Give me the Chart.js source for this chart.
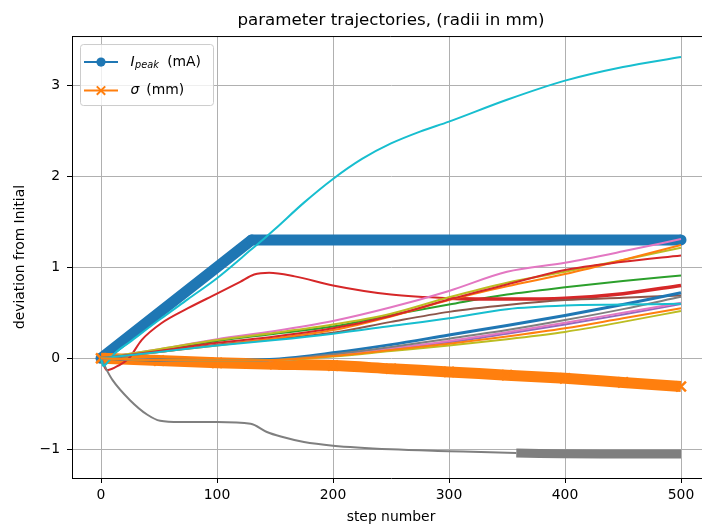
<!DOCTYPE html>
<html>
<head>
<meta charset="utf-8">
<script src="https://cdn.jsdelivr.net/npm/chart.js@4.4.0/dist/chart.umd.min.js"></script>
<style>
  html, body { margin: 0; padding: 0; background: #fff; overflow: hidden; }
  #wrap { width: 702px; height: 529px; overflow: hidden; }
</style>
</head>
<body>
<div id="wrap"><canvas id="chart" width="710" height="529"></canvas></div>
<script>
// ---- data ----
const TITLE = "parameter trajectories, (radii in mm)";
const X_LABEL = "step number";
const Y_LABEL = "deviation from Initial";
const X_TICKS = [0, 100, 200, 300, 400, 500];
const Y_TICKS = [-1, 0, 1, 2, 3];

// shared sample steps for the smooth trajectories
const STEPS = [0, 50, 100, 150, 200, 250, 300, 350, 400, 450, 500];

const IPEAK_STEPS = [0, 130, 500];
const IPEAK = [0, 1.30, 1.30];

const SIGMA = [0, -0.025, -0.05, -0.065, -0.08, -0.115, -0.15, -0.185, -0.22, -0.265, -0.31];

// upper bundle
const GREEN_UP = [0, 0.09, 0.19, 0.27, 0.35, 0.475, 0.59, 0.70, 0.78, 0.85, 0.91];
const BROWN_UP = [0, 0.07, 0.15, 0.21, 0.28, 0.40, 0.51, 0.585, 0.64, 0.665, 0.69];
const PINK_UP = [0, 0.10, 0.21, 0.30, 0.41, 0.56, 0.74, 0.95, 1.05, 1.175, 1.31];
const OLIVE_UP = [0, 0.10, 0.20, 0.28, 0.37, 0.49, 0.67, 0.83, 0.95, 1.08, 1.215];
const ORANGE_UP = [0, 0.07, 0.14, 0.22, 0.31, 0.46, 0.64, 0.79, 0.925, 1.08, 1.245];
const RED_UP = [0, 0.08, 0.17, 0.24, 0.33, 0.465, 0.645, 0.81, 0.97, 1.06, 1.13];
const CYAN_UP = [0, 0.07, 0.14, 0.20, 0.27, 0.355, 0.44, 0.54, 0.58, 0.59, 0.60];

// lower bundle
const BLUE_LOW = [0, -0.02, -0.025, -0.01, 0.06, 0.15, 0.256, 0.36, 0.47, 0.59, 0.72];
const GRAY_LOW = [0, -0.02, -0.025, -0.015, 0.045, 0.125, 0.215, 0.31, 0.42, 0.54, 0.675];
const PINK_LOW = [0, -0.02, -0.025, -0.02, 0.035, 0.11, 0.19, 0.285, 0.39, 0.50, 0.61];
const PURPLE_LOW = [0, -0.02, -0.025, -0.02, 0.03, 0.10, 0.175, 0.27, 0.37, 0.48, 0.595];
const ORANGE_LOW = [0, -0.02, -0.025, -0.02, 0.025, 0.09, 0.16, 0.24, 0.33, 0.44, 0.55];
const OLIVE_LOW = [0, -0.02, -0.025, -0.02, 0.02, 0.08, 0.14, 0.21, 0.29, 0.40, 0.52];

// special trajectories
const CYAN_BIG_STEPS = [0, 2, 6, 12, 25, 50, 75, 100, 130, 142, 150, 175, 200, 225, 250, 275, 300, 350, 400, 450, 500];
const CYAN_BIG = [0, -0.085, -0.04, 0.055, 0.18, 0.42, 0.65, 0.88, 1.2, 1.33, 1.42, 1.71, 1.97, 2.19, 2.36, 2.49, 2.60, 2.84, 3.05, 3.20, 3.31];

const RED_PEAK_STEPS = [0, 5, 12, 24, 35, 52, 75, 100, 120, 132, 145, 167, 200, 250, 300, 350, 400, 450, 500];
const RED_PEAK = [0, -0.13, -0.1, 0, 0.2, 0.385, 0.55, 0.71, 0.84, 0.92, 0.94, 0.9, 0.8, 0.7, 0.66, 0.65, 0.66, 0.71, 0.80];

const GRAY_DOWN_STEPS = [0, 5, 10, 25, 40, 51, 68, 100, 129, 143, 155, 175, 200, 250, 300, 358, 430, 500];
const GRAY_DOWN = [0, -0.13, -0.24, -0.46, -0.62, -0.686, -0.70, -0.70, -0.72, -0.81, -0.86, -0.92, -0.96, -1.0, -1.02, -1.04, -1.05, -1.05];

// ---- style ----
const FONT = "DejaVu Sans";
const C = {
  blue: "#1f77b4", orange: "#ff7f0e", green: "#2ca02c", red: "#d62728", purple: "#9467bd",
  brown: "#8c564b", pink: "#e377c2", gray: "#7f7f7f", olive: "#bcbd22", cyan: "#17becf",
};

Chart.defaults.font.family = FONT;
Chart.defaults.font.size = 13.9;
Chart.defaults.color = "#000";

function pts(xs, ys) {
  return xs.map((x, i) => ({ x: x, y: ys[i] }));
}

function thin(color, xs, ys, extra) {
  return Object.assign({
    data: pts(xs, ys),
    borderColor: color,
    borderWidth: 2,
    pointRadius: 0,
    cubicInterpolationMode: "monotone",
    fill: false,
  }, extra || {});
}

// plotted in matplotlib order (first = bottom)
const datasets = [
  {
    label: "I_peak (mA)",
    data: pts(IPEAK_STEPS, IPEAK),
    borderColor: C.blue,
    backgroundColor: C.blue,
    borderWidth: 11,
    borderJoinStyle: "round",
    pointStyle: "circle",
    pointRadius: 5.5,
    pointBorderWidth: 0,
  },
  {
    label: "σ (mm)",
    data: pts(STEPS, SIGMA),
    borderColor: C.orange,
    borderWidth: 11,
    cubicInterpolationMode: "monotone",
    pointStyle: "crossRot",
    pointRadius: 7,
    pointBorderWidth: 2.5,
    pointBorderColor: C.orange,
  },
  thin(C.green, STEPS, GREEN_UP),
  thin(C.red, RED_PEAK_STEPS, RED_PEAK, {
    segment: { borderWidth: (s) => (s.p0.parsed.x >= 300 ? 3.5 : 2) },
  }),
  thin(C.purple, STEPS, PURPLE_LOW),
  thin(C.brown, STEPS, BROWN_UP),
  thin(C.pink, STEPS, PINK_UP),
  thin(C.gray, GRAY_DOWN_STEPS, GRAY_DOWN, {
    segment: { borderWidth: (s) => (s.p0.parsed.x >= 358 ? 9 : 2) },
  }),
  thin(C.olive, STEPS, OLIVE_UP),
  thin(C.cyan, CYAN_BIG_STEPS, CYAN_BIG),
  thin(C.blue, STEPS, BLUE_LOW, { borderWidth: 3 }),
  thin(C.orange, STEPS, ORANGE_UP),
  thin(C.red, STEPS, RED_UP),
  thin(C.pink, STEPS, PINK_LOW),
  thin(C.gray, STEPS, GRAY_LOW),
  thin(C.olive, STEPS, OLIVE_LOW),
  thin(C.cyan, STEPS, CYAN_UP),
  thin(C.orange, STEPS, ORANGE_LOW),
];
datasets.forEach((d, i) => { d.order = -i; });

const LEGEND_ITEMS = [
  { color: C.blue, marker: "circle", main: "I", sub: "peak", rest: "(mA)" },
  { color: C.orange, marker: "cross", main: "σ", sub: "", rest: "(mm)" },
];

// top/right spines like matplotlib's box
const framePlugin = {
  id: "frame",
  afterDatasetsDraw(chart) {
    const { ctx, chartArea: a } = chart;
    ctx.save();
    ctx.strokeStyle = "#000";
    ctx.lineWidth = 1;
    ctx.beginPath();
    ctx.moveTo(a.left, a.top + 0.5);
    ctx.lineTo(a.right - 0.5, a.top + 0.5);
    ctx.lineTo(a.right - 0.5, a.bottom);
    ctx.stroke();
    ctx.restore();
  },
};

// legend with line+marker handles and a subscripted label
const legendPlugin = {
  id: "mplLegend",
  afterDraw(chart) {
    const { ctx, chartArea: a } = chart;
    const x0 = a.left + 8.5;
    const y0 = a.top + 8.5;
    ctx.save();
    ctx.beginPath();
    ctx.roundRect(x0, y0, 133, 61, 3);
    ctx.fillStyle = "rgba(255,255,255,0.8)";
    ctx.fill();
    ctx.strokeStyle = "#cccccc";
    ctx.lineWidth = 1;
    ctx.stroke();

    LEGEND_ITEMS.forEach((item, i) => {
      const cy = y0 + 17.5 + i * 28.5;
      const mx = x0 + 20.5;
      ctx.strokeStyle = item.color;
      ctx.fillStyle = item.color;
      ctx.lineWidth = 2;
      ctx.beginPath();
      ctx.moveTo(x0 + 3.5, cy);
      ctx.lineTo(x0 + 37.5, cy);
      ctx.stroke();
      if (item.marker === "circle") {
        ctx.beginPath();
        ctx.arc(mx, cy, 4.6, 0, Math.PI * 2);
        ctx.fill();
      } else {
        const r = 4.2;
        ctx.beginPath();
        ctx.moveTo(mx - r, cy - r);
        ctx.lineTo(mx + r, cy + r);
        ctx.moveTo(mx - r, cy + r);
        ctx.lineTo(mx + r, cy - r);
        ctx.stroke();
      }

      ctx.fillStyle = "#000";
      ctx.textBaseline = "alphabetic";
      ctx.textAlign = "left";
      const base = cy + 3.8;
      let tx = x0 + 50;
      ctx.font = 'italic 13.9px "' + FONT + '"';
      ctx.fillText(item.main, tx, base);
      tx += ctx.measureText(item.main).width;
      if (item.sub) {
        ctx.font = 'italic 9.7px "' + FONT + '"';
        tx += 0.5;
        ctx.fillText(item.sub, tx, base + 2.5);
        tx += ctx.measureText(item.sub).width + 1.5;
      }
      ctx.font = '13.9px "' + FONT + '"';
      ctx.fillText(" " + item.rest, tx + 2.5, base);
    });
    ctx.restore();
  },
};

function tickLabel(v) {
  return v < 0 ? "\u2212" + Math.abs(v) : String(v);
}

new Chart(document.getElementById("chart"), {
  type: "line",
  data: { datasets: datasets },
  options: {
    responsive: false,
    animation: false,
    events: [],
    layout: { padding: 0, autoPadding: false },
    plugins: {
      legend: { display: false },
      tooltip: { enabled: false },
      title: {
        display: true,
        text: TITLE,
        fullSize: false,
        color: "#000",
        font: { family: FONT, size: 16.7, weight: "normal" },
        padding: { top: 11, bottom: 5 },
      },
    },
    scales: {
      x: {
        type: "linear",
        min: -25,
        max: 525,
        afterFit: (s) => { s.height = 51; },
        afterBuildTicks: (s) => { s.ticks = X_TICKS.map((v) => ({ value: v })); },
        ticks: { padding: 4, callback: tickLabel, maxRotation: 0 },
        grid: { color: "#b0b0b0", lineWidth: 1, tickColor: "#000", tickLength: 5 },
        border: { display: true, color: "#000", width: 1 },
        title: { display: true, text: X_LABEL, padding: { top: 0, bottom: 3.6 } },
      },
      y: {
        type: "linear",
        min: -1.315,
        max: 3.54,
        afterFit: (s) => { s.width = 72; },
        afterBuildTicks: (s) => { s.ticks = Y_TICKS.map((v) => ({ value: v })); },
        ticks: { padding: 7, callback: tickLabel },
        grid: { color: "#b0b0b0", lineWidth: 1, tickColor: "#000", tickLength: 5 },
        border: { display: true, color: "#000", width: 1 },
        title: { display: true, text: Y_LABEL, padding: { top: 12, bottom: 0 } },
      },
    },
  },
  plugins: [framePlugin, legendPlugin],
});
</script>
</body>
</html>
